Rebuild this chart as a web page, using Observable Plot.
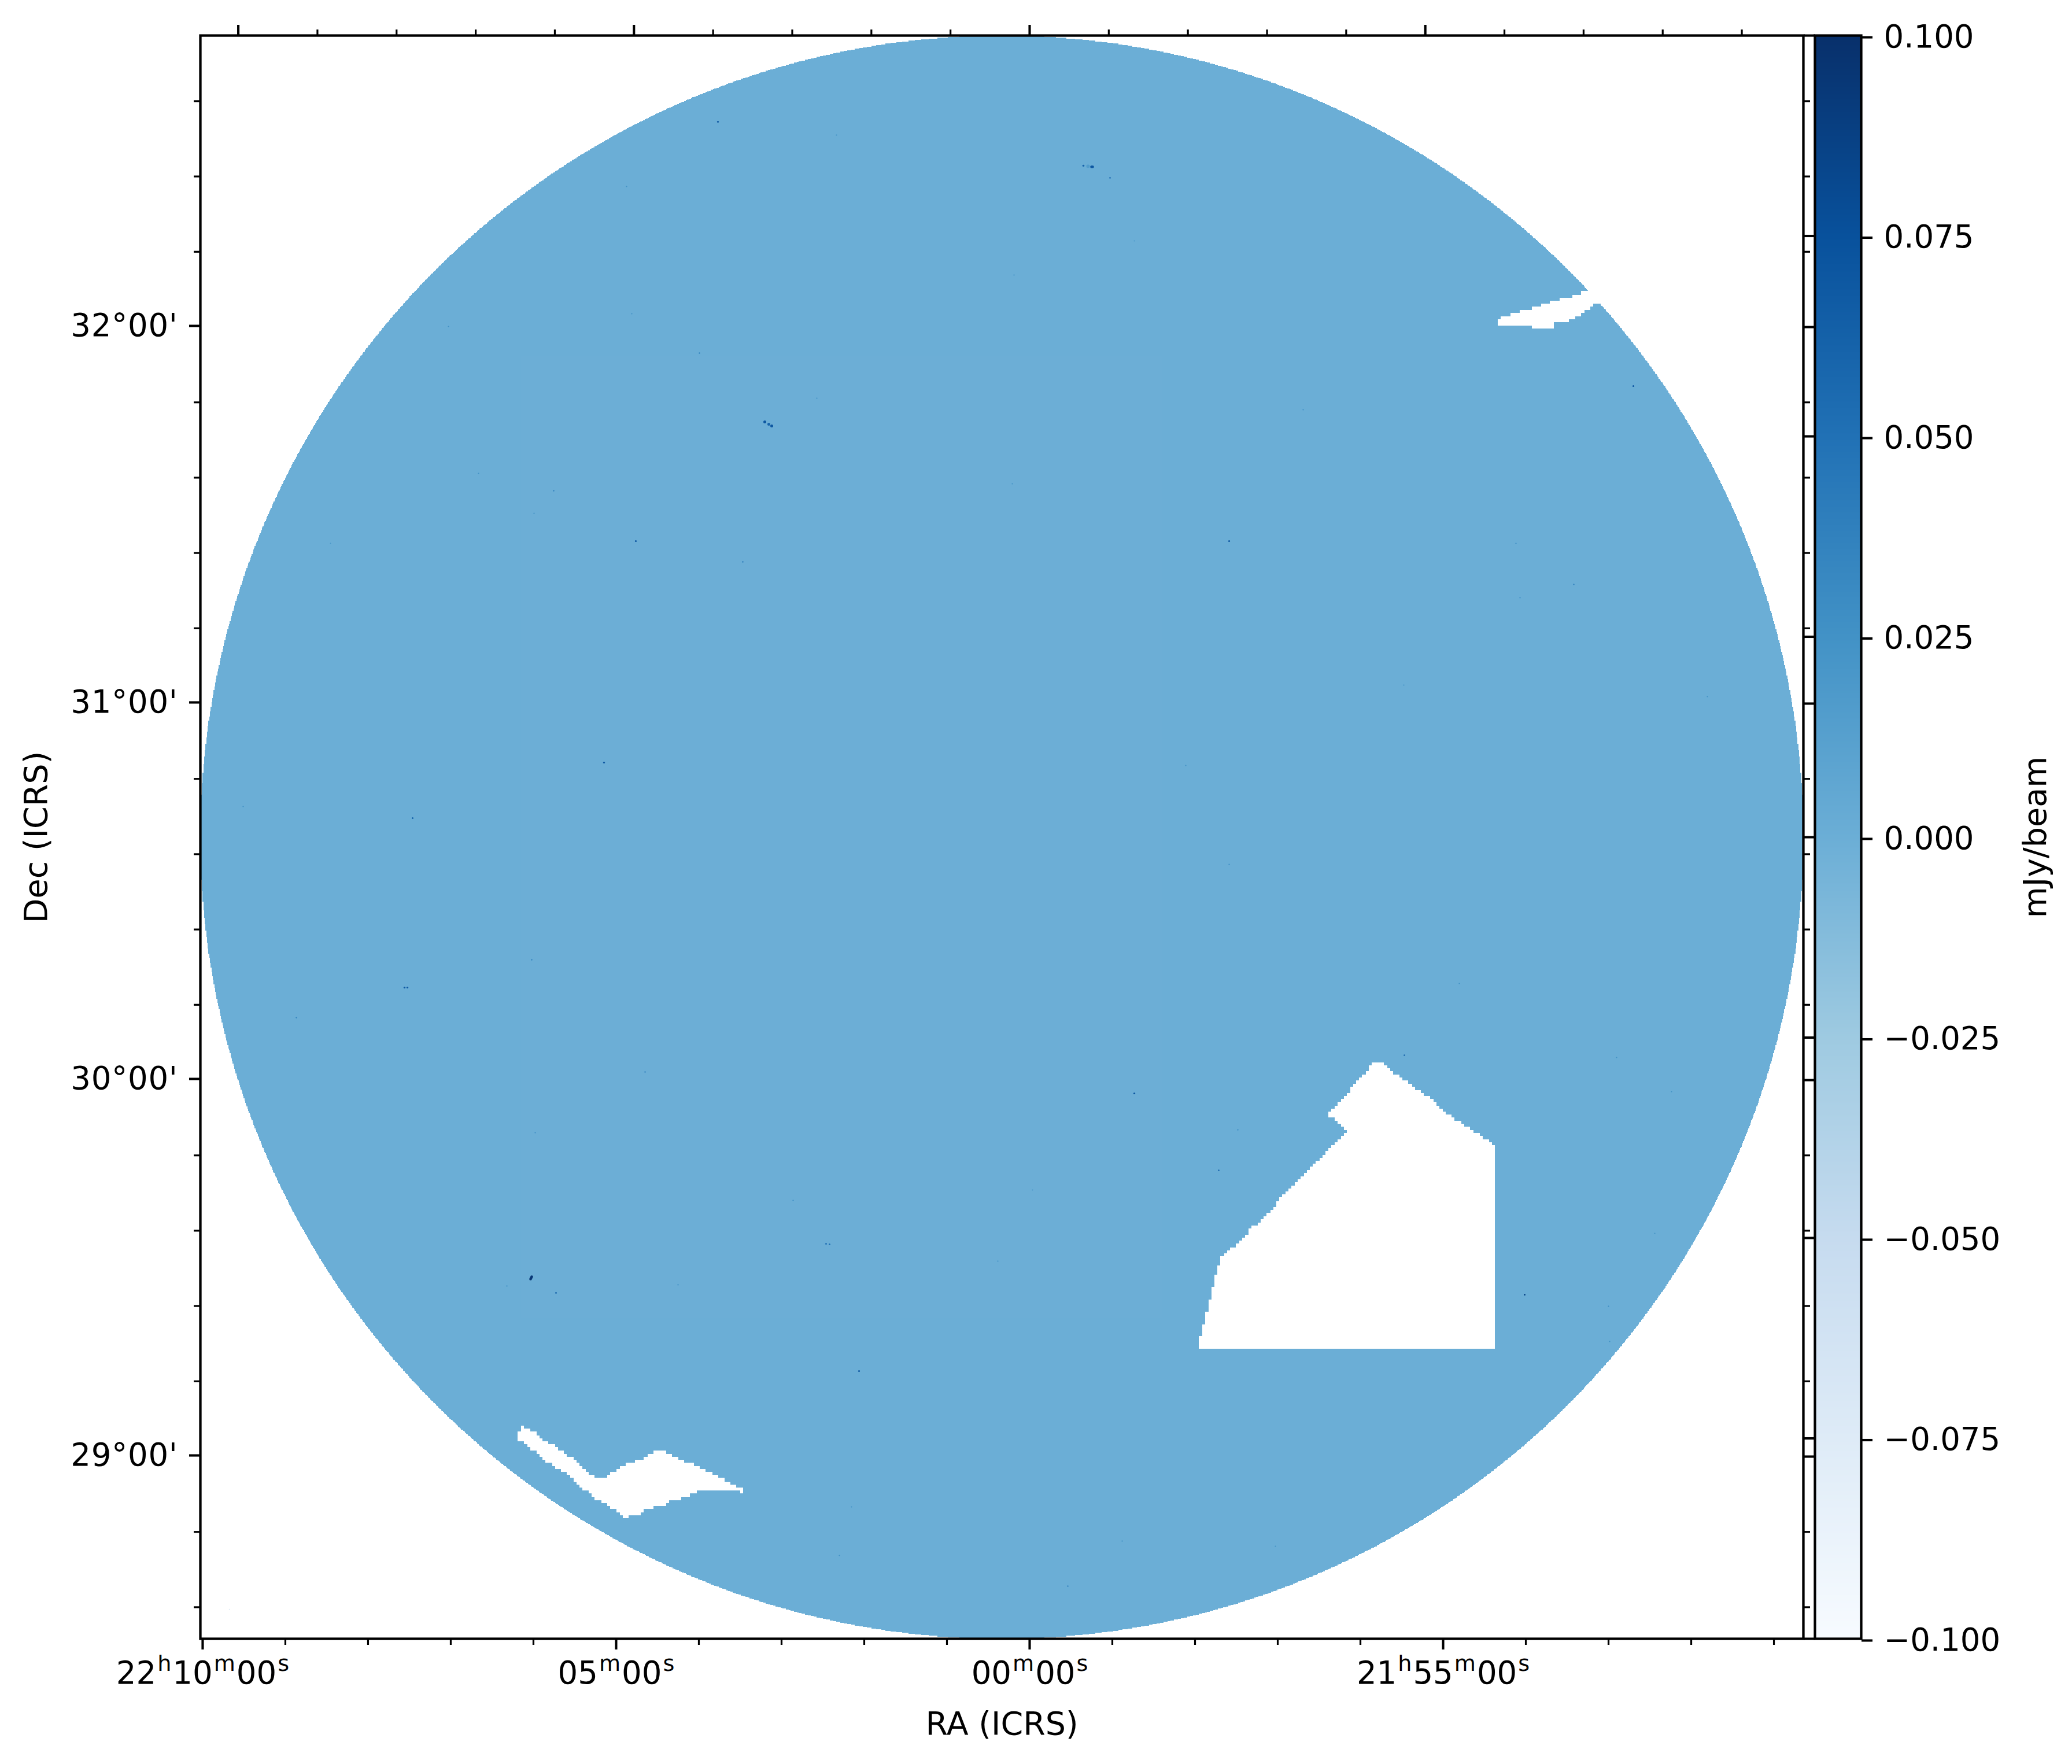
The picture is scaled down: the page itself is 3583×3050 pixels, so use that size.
<!DOCTYPE html>
<html>
<head>
<meta charset="utf-8">
<script src="https://cdn.jsdelivr.net/npm/d3@7"></script>
<script src="https://cdn.jsdelivr.net/npm/@observablehq/plot@0.6"></script>
<style>
html,body{margin:0;padding:0;background:#fff;}
#chart{position:relative;width:3583px;height:3050px;overflow:hidden;}
#chart svg{position:absolute;top:0;background:transparent;}
#chart g[aria-label$="axis tick"]{stroke-width:4.1px;}
#chart g[aria-label$="axis label"]{font-size:55.5px;}
#chart g.minor[aria-label$="axis tick"], #chart .minor g[aria-label$="axis tick"]{stroke-width:3.2px;}
</style>
</head>
<body>
<div id="chart"></div>
<script>
// Colour scale (stops and colours of the Blues map)
const colorStops = [-0.1,-0.075,-0.05,-0.025,0,0.025,0.05,0.075,0.1];
const colorRange = ["#f7fbff","#deebf7","#c6dbef","#9ecae1","#6baed6","#4292c6","#2171b5","#08519c","#08306b"];
const cbarTicks = [-0.1,-0.075,-0.05,-0.025,0,0.025,0.05,0.075,0.1];

// Sky axes: right ascension in minutes from 22h00m, declination in degrees
const raMajor = [10,5,0,-5];
const raLabels = ["22h10m00s","05m00s","00m00s","21h55m00s"];
const raMinor = [9,8,7,6,4,3,2,1,-1,-2,-3,-4,-6,-7,-8,-9];
const decMajor = [32,31,30,29];
const decLabels = ["32°00'","31°00'","30°00'","29°00'"];
const decMinor = [32.6,32.4,32.2,31.8,31.6,31.4,31.2,30.8,30.6,30.4,30.2,29.8,29.6,29.4,29.2,28.8,28.6];

// Map geometry in map pixels
const mapSize = 2772;
const discRadius = 1386;
const meridianCol = 1434;
const rowDec32 = 504;
const mapPerDeg = 651;
const maskCell = 5.33;
const bgCell = 554.4;

// Background level, coarse table (mJy/beam)
const bgLevels = [
  [-0.0001,-0.0002,-0.0002, 0.0000, 0.0002],
  [-0.0002,-0.0004,-0.0004,-0.0002, 0.0001],
  [-0.0002,-0.0004,-0.0004,-0.0002, 0.0002],
  [-0.0002,-0.0003,-0.0003,-0.0001, 0.0003],
  [ 0.0000,-0.0001,-0.0001, 0.0002, 0.0003]
];

// Blanked regions (map pixels)
const holeLarge = [[2236,2271],[2236,1918],[2210,1899],[2181,1880],[2156,1863],[2127,1838],[2089,1811],[2052,1784],[2042,1773],[2029,1773],[2019,1788],[1998,1811],[1986,1826],[1965,1849],[1949,1864],[1950,1871],[1961,1872],[1971,1884],[1983,1893],[1977,1899],[1961,1916],[1944,1933],[1919,1956],[1894,1981],[1870,2006],[1853,2029],[1820,2060],[1795,2086],[1766,2113],[1760,2128],[1754,2148],[1748,2174],[1743,2195],[1737,2216],[1732,2240],[1727,2260],[1727,2271]];
const holeDiamond = [[549,2416],[556,2406],[572,2412],[587,2424],[604,2434],[621,2444],[637,2456],[654,2467],[664,2477],[681,2493],[701,2493],[712,2484],[734,2472],[761,2462],[782,2451],[794,2444],[810,2451],[832,2462],[854,2472],[876,2482],[897,2493],[919,2504],[936,2510],[940,2516],[940,2520],[921,2515],[894,2515],[874,2514],[857,2519],[846,2524],[831,2530],[812,2534],[802,2541],[786,2544],[769,2549],[757,2560],[742,2561],[736,2565],[726,2559],[721,2552],[709,2547],[699,2537],[687,2531],[672,2520],[656,2509],[646,2497],[631,2486],[619,2479],[603,2469],[587,2457],[576,2447],[561,2434],[550,2430]];
const holeEdge = [[2242,492],[2252,486],[2269,481],[2286,476],[2307,470],[2323,465],[2339,459],[2355,454],[2377,449],[2394,443],[2402,442],[2424,442],[2422,465],[2411,465],[2405,471],[2394,476],[2389,482],[2378,487],[2367,493],[2340,498],[2340,504],[2312,504],[2286,503],[2242,503]];

// Compact sources: column, row, peak value, radius
const srcCol = [976,983,988,573,572,571,530,615,1527,1535,1541,1543,1573,2082,2290,1761,1794,895,1100,2478,698,753,938,353,358,1615,1082,1088,1139,166,769,579,573,1779,2275,2375,2282,1779,1907,1404,611,577,481,225,1066,863,746,429,737,1407,1615,2606,2081,74,367,1025,1379,826,1439,2435,2437,2515,2544,2449,2177,1704,1500,1594,1105,1126,1859,50];
const srcRow = [668,672,675,2146,2148,2150,2162,2174,225,226,227,227,246,1763,2177,1962,1892,149,172,606,1257,874,910,1646,1646,1829,2089,2090,2309,1698,1792,1897,1598,874,878,949,972,1433,647,775,787,826,757,878,627,549,481,503,261,414,355,1143,1123,1333,1353,2014,2119,2160,1996,2197,2258,2071,1826,1767,1639,1262,2681,2603,2628,2544,2612,2721];
const srcVal = [0.07,0.06,0.07,0.095,0.095,0.095,0.02,0.06,0.06,0.015,0.07,0.07,0.06,0.06,0.085,0.06,0.025,0.07,0.025,0.07,0.07,0.07,0.04,0.07,0.07,0.07,0.05,0.05,0.07,0.035,0.035,0.03,0.035,0.07,0.03,0.035,0.03,0.03,0.03,0.025,0.035,0.025,0.025,0.02,0.025,0.035,0.025,0.025,0.025,0.025,0.02,0.025,0.025,0.025,0.06,0.03,0.025,0.03,0.02,0.03,0.025,0.025,0.025,0.025,0.025,0.025,0.035,0.03,0.025,0.025,0.025,-0.05];
const srcRad = [2.5,2.5,2.5,2.3,2.3,2.3,1.2,1.4,1.8,3,2.3,2.3,1.3,1.3,1.5,1.3,1.2,1.6,1.1,1.6,1.6,1.6,1.2,1.6,1.6,1.6,1.5,1.5,1.6,1.2,1.2,1.1,1.2,1.6,1.1,1.2,1.1,1.1,1.1,1.1,1.2,1.1,1.1,1,1.1,1.2,1.1,1.1,1.1,1.1,1,1.1,1.1,1.1,1.5,1.1,1.1,1.1,1,1.1,1.1,1.1,1.1,1.1,1.1,1.1,1.2,1.1,1.1,1.1,1.1,0.7];
const sources = srcCol.map((c,i)=>({c,r:srcRow[i],v:srcVal[i],s:srcRad[i]}));

// Sky to map conversion
const decRow = dec => rowDec32 + (32-dec)*mapPerDeg;
const rowDec = row => 32 - (row-rowDec32)/mapPerDeg;
const raCol = (ra,row) => meridianCol - mapPerDeg*(ra/4)*Math.cos(rowDec(row)*Math.PI/180);

const bbox = p => [d3.min(p,d=>d[0]),d3.max(p,d=>d[0]),d3.min(p,d=>d[1]),d3.max(p,d=>d[1])];
const holes = [holeLarge,holeDiamond,holeEdge].map(p=>({p,b:bbox(p)}));
function blanked(c,r){
  const qc = (Math.floor(c/maskCell)+0.5)*maskCell, qr = (Math.floor(r/maskCell)+0.5)*maskCell;
  for(const h of holes){
    if(qc<h.b[0]||qc>h.b[1]||qr<h.b[2]||qr>h.b[3]) continue;
    if(d3.polygonContains(h.p,[qc,qr])) return true;
  }
  return false;
}
function mapValue(c,r){
  const dx=c-discRadius, dy=r-discRadius;
  if(dx*dx+dy*dy>discRadius*discRadius) return NaN;
  if(blanked(c,r)) return NaN;
  return bgLevels[Math.min(4,Math.floor(r/bgCell))][Math.min(4,Math.floor(c/bgCell))];
}

const FS = 54.5;
const MAJOR = 19, MINOR = 11;
const fontStyle = {fontFamily:"'DejaVu Sans'",fontSize:FS+"px",background:"transparent",color:"#000",overflow:"visible"};
const colorScale = {type:"linear",domain:colorStops,range:colorRange,clamp:true};

const mapPlot = Plot.plot({
  width:3140,height:3050,marginLeft:346,marginRight:22,marginTop:61,marginBottom:217,
  style:fontStyle,
  x:{domain:[0,mapSize]},
  y:{domain:[0,mapSize],range:[61,2833]},
  r:{type:"identity"},
  color:colorScale,
  marks:[
    Plot.raster({fill:mapValue,fillOpacity:(c,r)=>Number.isNaN(mapValue(c,r))?0:1,x1:0,x2:mapSize,y1:0,y2:mapSize,pixelSize:1.27,imageRendering:"pixelated"}),
    Plot.dot(sources,{x:"c",y:"r",r:"s",fill:"v",stroke:null}),
    // bottom ticks
    Plot.axisX({anchor:"bottom",ticks:raMajor.map(d=>raCol(d,mapSize)),tickSize:MAJOR,tickPadding:20,fontVariant:"normal",
      tickFormat:d=>raLabels[raMajor.findIndex(m=>Math.abs(raCol(m,mapSize)-d)<1e-6)],
      label:"RA (ICRS)",labelAnchor:"center",labelArrow:"none",labelOffset:165}),
    Plot.axisX({anchor:"bottom",ticks:raMinor.map(d=>raCol(d,mapSize)),tickSize:MINOR,tickFormat:()=>"",label:null,className:"minor"}),
    // top ticks
    Plot.axisX({anchor:"top",ticks:raMajor.map(d=>raCol(d,0)),tickSize:MAJOR,tickFormat:()=>"",label:null}),
    Plot.axisX({anchor:"top",ticks:raMinor.map(d=>raCol(d,0)),tickSize:MINOR,tickFormat:()=>"",label:null,className:"minor"}),
    // left ticks
    Plot.axisY({anchor:"left",ticks:decMajor.map(decRow),tickSize:MAJOR,tickPadding:20,dy:-2,fontVariant:"normal",
      tickFormat:d=>decLabels[decMajor.findIndex(m=>Math.abs(decRow(m)-d)<1e-6)],
      label:"Dec (ICRS)",labelAnchor:"center",labelArrow:"none",labelOffset:305}),
    Plot.axisY({anchor:"left",ticks:decMinor.map(decRow),tickSize:MINOR,tickFormat:()=>"",label:null,className:"minor"}),
    // right ticks
    Plot.axisY({anchor:"right",ticks:decMajor.map(decRow),tickSize:MAJOR,tickFormat:()=>"",label:null}),
    Plot.axisY({anchor:"right",ticks:decMinor.map(decRow),tickSize:MINOR,tickFormat:()=>"",label:null,className:"minor"}),
    Plot.frame({stroke:"#000",strokeWidth:4.3})
  ]
});
mapPlot.style.left="0px";

const cbarFmt = d3.format(".3f");
const cbarPlot = Plot.plot({
  width:465,height:3050,marginLeft:20,marginRight:365,marginTop:61,marginBottom:217,
  style:fontStyle,
  x:{domain:[0,1],axis:null},
  y:{domain:[-0.1,0.1]},
  color:colorScale,
  marks:[
    Plot.raster({fill:(x,y)=>y,x1:0,x2:1,y1:-0.1,y2:0.1,pixelSize:1}),
    Plot.axisY({anchor:"right",ticks:cbarTicks,tickSize:MAJOR,tickPadding:20,dy:3,fontVariant:"normal",textAnchor:"start",
      tickFormat:d=>cbarFmt(d).replace("-","\u2212"),
      label:"mJy/beam",labelAnchor:"center",labelArrow:"none",labelOffset:319}),
    Plot.axisY({anchor:"left",ticks:cbarTicks,tickSize:MAJOR,tickFormat:()=>"",label:null}),
    Plot.frame({stroke:"#000",strokeWidth:4.3})
  ]
});
cbarPlot.style.left="3118px";

const chart = document.getElementById("chart");
chart.append(mapPlot,cbarPlot);

// Raised h, m, s in the right-ascension labels; spaced Dec labels
mapPlot.querySelectorAll("text").forEach(t=>{
  const s=t.textContent;
  if(decLabels.includes(s)) t.style.letterSpacing="0.7px";
  if(!/^(\d\dh)?\d\dm\d\ds$/.test(s)) return;
  t.textContent="";
  const parts=s.match(/\d+|[hms]/g);
  let raised=false;
  for(const part of parts){
    const sp=document.createElementNS("http://www.w3.org/2000/svg","tspan");
    sp.textContent=part;
    if(/[hms]/.test(part)){ sp.setAttribute("font-size",FS*0.7); sp.setAttribute("dy",-22); sp.setAttribute("dx",2); raised=true; }
    else if(raised){ sp.setAttribute("dy",22); sp.setAttribute("dx",2); raised=false; }
    t.appendChild(sp);
  }
});
</script>
</body>
</html>
